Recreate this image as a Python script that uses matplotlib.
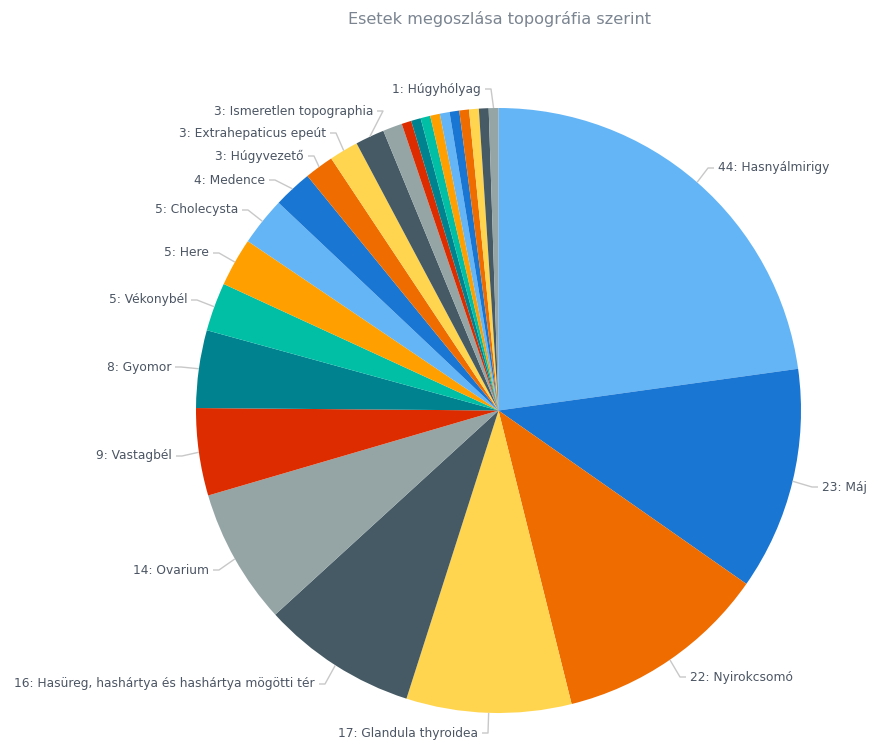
import numpy as np
import matplotlib.pyplot as plt

# cases per topography, sorted descending
labels = ['Hasnyálmirigy', 'Máj', 'Nyirokcsomó', 'Glandula thyroidea',
          'Hasüreg, hashártya és hashártya mögötti tér', 'Ovarium', 'Vastagbél',
          'Gyomor', 'Vékonybél', 'Here', 'Cholecysta', 'Medence', 'Húgyvezető',
          'Extrahepaticus epeút', 'Ismeretlen topographia',
          '', '', '', '', '', '', '', '', '', '',
          'Húgyhólyag']
values = [44, 23, 22, 17, 16, 14, 9, 8, 5, 5, 5, 4, 3, 3, 3,
          2, 1, 1, 1, 1, 1, 1, 1, 1, 1,
          1]

palette = ['#64b5f6', '#1976d2', '#ef6c00', '#ffd54f', '#455a64',
           '#95a5a6', '#dd2c00', '#00838f', '#00bfa5', '#ffa000']
colors = [palette[i % len(palette)] for i in range(len(values))]

# label text anchors in pixels (x = text edge nearest the pie, y = centre line)
label_pos = {
    'Hasnyálmirigy': (718, 168), 'Máj': (822, 487), 'Nyirokcsomó': (690, 677),
    'Glandula thyroidea': (478, 733),
    'Hasüreg, hashártya és hashártya mögötti tér': (315, 684),
    'Ovarium': (209, 570), 'Vastagbél': (172, 456), 'Gyomor': (171, 367),
    'Vékonybél': (187, 300), 'Here': (209, 253), 'Cholecysta': (238, 210),
    'Medence': (265, 180), 'Húgyvezető': (304, 156),
    'Extrahepaticus epeút': (326, 133), 'Ismeretlen topographia': (373, 111),
    'Húgyhólyag': (481, 89),
}

W, H = 871, 742
cx, cy, r = 498.5, H - 410.5, 302.5

fig = plt.figure(figsize=(W / 100, H / 100), dpi=100)
ax = fig.add_axes([0, 0, 1, 1])
ax.pie(values, colors=colors, startangle=90, counterclock=False,
       center=(cx, cy), radius=r, wedgeprops=dict(linewidth=0))
ax.set_xlim(0, W)
ax.set_ylim(0, H)
ax.axis('off')

total = sum(values)
cum = 0
for lab, v in zip(labels, values):
    mid = np.deg2rad(90 - 360 * (cum + v / 2) / total)
    cum += v
    if lab not in label_pos:
        continue
    tx, py = label_pos[lab]
    ty = H - py
    ex, ey = cx + r * np.cos(mid), cy + r * np.sin(mid)
    s = 1 if tx > cx else -1
    ax.plot([tx - s * 4, tx - s * 10, ex], [ty, ty, ey], color='#c8c8c8',
            lw=1, solid_capstyle='butt', zorder=1)
    ax.text(tx, ty, f'{v}: {lab}', ha='left' if s > 0 else 'right', va='center',
            fontsize=8.8, color='#4b5563')

ax.text(499, H - 19, 'Esetek megoszlása topográfia szerint', ha='center',
        va='center', fontsize=11.6, color='#7b8591')

fig.savefig('out.png', dpi=100, facecolor='white')
